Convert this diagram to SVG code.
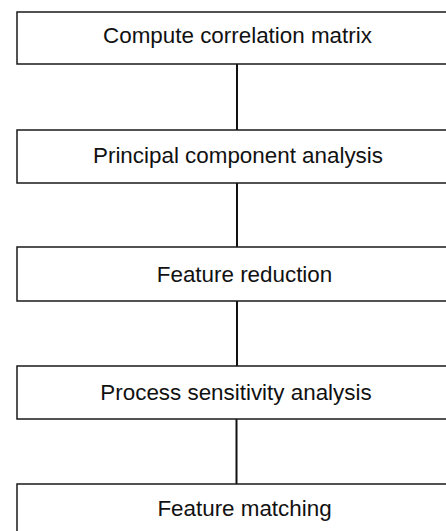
<svg xmlns="http://www.w3.org/2000/svg" width="446" height="531" viewBox="0 0 446 531">
<style>
.box{fill:#fff;stroke:#1a1a1a;stroke-width:1.5}
.lbl{font-family:"Liberation Sans",Arial,sans-serif;font-size:22.4px;fill:#111;text-anchor:middle}
.con{stroke:#111;stroke-width:2;fill:none}
</style>
<rect width="446" height="531" fill="#fff"/>
<g id="connectors">
<line class="con" x1="237" y1="64" x2="237" y2="130"/>
<line class="con" x1="237" y1="183" x2="237" y2="247"/>
<line class="con" x1="237" y1="301" x2="237" y2="366"/>
<line class="con" x1="236.5" y1="419" x2="236.5" y2="484"/>
</g>
<g id="n1"><rect class="box" x="17" y="12" width="440" height="52"/><text class="lbl" x="237.5" y="43">Compute correlation matrix</text></g>
<g id="n2"><rect class="box" x="17" y="130" width="440" height="53"/><text class="lbl" x="238" y="163">Principal component analysis</text></g>
<g id="n3"><rect class="box" x="17" y="247" width="440" height="54"/><text class="lbl" x="244.5" y="282">Feature reduction</text></g>
<g id="n4"><rect class="box" x="17" y="366" width="440" height="53"/><text class="lbl" x="236" y="400">Process sensitivity analysis</text></g>
<g id="n5"><rect class="box" x="17" y="484" width="440" height="60"/><text class="lbl" x="244.5" y="516">Feature matching</text></g>
</svg>
